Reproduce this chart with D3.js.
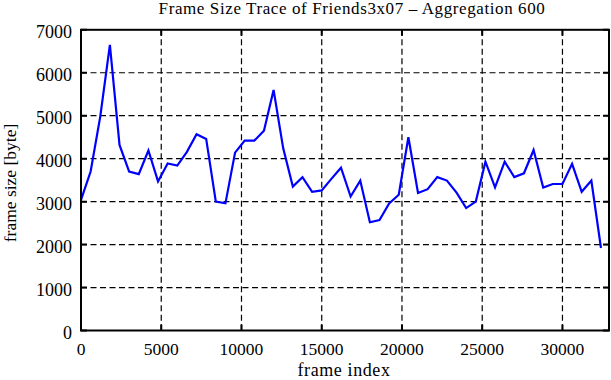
<!DOCTYPE html>
<html>
<head>
<meta charset="utf-8">
<script src="https://cdn.jsdelivr.net/npm/d3@7"></script>
<style>
  body { margin: 0; background: #fff; }
  text { font-family: "Liberation Serif", "DejaVu Serif", serif; fill: #000; }
</style>
</head>
<body>
<svg width="611" height="380"></svg>
<script>
// frame size per aggregation window of 600 frames
const frameIndex = d3.range(0, 55).map(k => k * 600);
const frameSize = [
  3040, 3700, 4980, 6650, 4320, 3700, 3640, 4190, 3470, 3890,
  3840, 4160, 4570, 4460, 3000, 2960, 4140, 4420, 4420, 4650,
  5600, 4240, 3350, 3570, 3230, 3260, 3530, 3790, 3120, 3490,
  2520, 2570, 2960, 3160, 4500, 3200, 3290, 3570, 3490, 3210,
  2850, 3000, 3930, 3330, 3930, 3570, 3660, 4200, 3330, 3410,
  3410, 3880, 3230, 3490, 1920
];
const xTicks = [0, 5000, 10000, 15000, 20000, 25000, 30000];
const yTicks = [0, 1000, 2000, 3000, 4000, 5000, 6000, 7000];

const svg = d3.select("svg");
const mLeft = 81, mRight = 609, mTop = 29.8, mBottom = 330.5;

const x = d3.scaleLinear().domain([0, 32900]).range([mLeft, mRight]);
const y = d3.scaleLinear().domain([0, 7000]).range([mBottom, mTop]);

// grid
svg.append("g").selectAll("line").data(xTicks.slice(1)).join("line")
  .attr("x1", d => x(d)).attr("x2", d => x(d))
  .attr("y1", mTop).attr("y2", mBottom)
  .attr("stroke", "#000").attr("stroke-dasharray", "6,3.5").attr("stroke-width", 1.2);
svg.append("g").selectAll("line").data(yTicks.slice(1, -1)).join("line")
  .attr("x1", mLeft).attr("x2", mRight)
  .attr("y1", d => y(d)).attr("y2", d => y(d))
  .attr("stroke", "#000").attr("stroke-dasharray", "6,3.5").attr("stroke-width", 1.2);

// inward ticks
const tick = 6;
svg.append("g").selectAll("path").data(yTicks).join("path")
  .attr("d", d => `M${mLeft},${y(d)}h${tick}M${mRight},${y(d)}h${-tick}`)
  .attr("stroke", "#000").attr("stroke-width", 2);
svg.append("g").selectAll("path").data(xTicks).join("path")
  .attr("d", d => `M${x(d)},${mBottom}v${-tick}M${x(d)},${mTop}v${tick}`)
  .attr("stroke", "#000").attr("stroke-width", 2);

// data line
const line = d3.line().x((d, i) => x(frameIndex[i])).y(d => y(d));
svg.append("path").datum(frameSize)
  .attr("d", line)
  .attr("fill", "none").attr("stroke", "#0000ff").attr("stroke-width", 2.2)
  .attr("stroke-linejoin", "miter");

// frame
svg.append("rect").attr("x", mLeft).attr("y", mTop)
  .attr("width", mRight - mLeft).attr("height", mBottom - mTop)
  .attr("fill", "none").attr("stroke", "#000").attr("stroke-width", 2);

// tick labels
svg.append("g").selectAll("text").data(yTicks).join("text")
  .attr("x", 72).attr("y", d => y(d) + 8)
  .attr("text-anchor", "end").attr("font-size", 18)
  .text(d => d);
svg.append("g").selectAll("text").data(xTicks).join("text")
  .attr("x", d => x(d)).attr("y", 355)
  .attr("text-anchor", "middle").attr("font-size", 17.5)
  .text(d => d);

// labels
svg.append("text").attr("x", 352).attr("y", 14)
  .attr("text-anchor", "middle").attr("font-size", 17).attr("letter-spacing", 0.6)
  .text("Frame Size Trace of Friends3x07 \u2013 Aggregation 600");
svg.append("text").attr("x", 344).attr("y", 376)
  .attr("text-anchor", "middle").attr("font-size", 18).attr("letter-spacing", 0.6)
  .text("frame index");
svg.append("text")
  .attr("transform", `translate(16,183) rotate(-90)`)
  .attr("text-anchor", "middle").attr("font-size", 17.5)
  .text("frame size [byte]");
</script>
</body>
</html>
